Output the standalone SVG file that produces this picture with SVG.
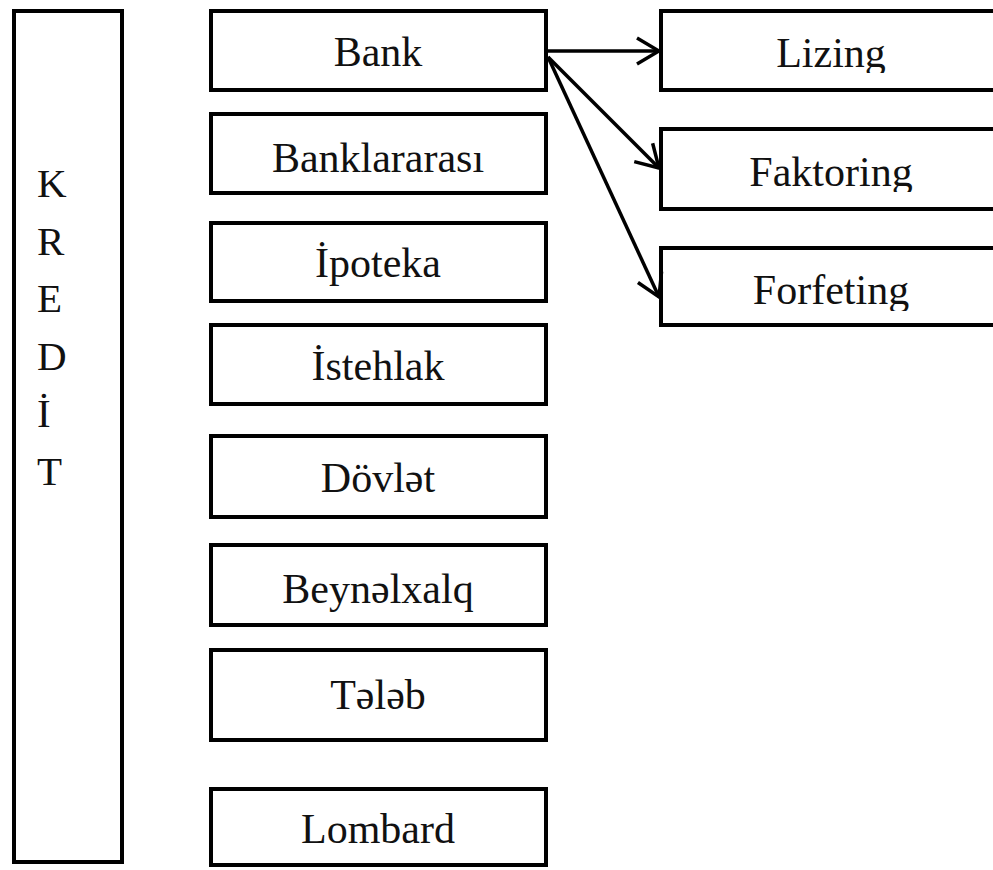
<svg xmlns="http://www.w3.org/2000/svg" width="993" height="870" viewBox="0 0 993 870">
  <style>
    .box { fill: #fff; stroke: #000; stroke-width: 4; }
    .lbl { font-family: "Liberation Serif", "Times New Roman", serif; font-size: 42px; fill: #111; text-anchor: middle; }
    .side { font-family: "Liberation Serif", "Times New Roman", serif; font-size: 41px; fill: #111; }
    .edge { stroke: #000; stroke-width: 3.5; fill: none; marker-end: url(#open); }
  </style>
  <defs>
    <marker id="open" viewBox="0 0 26 30" refX="24" refY="15" markerWidth="26" markerHeight="30" markerUnits="userSpaceOnUse" orient="auto">
      <path d="M2,2 L24,15 L2,28" fill="none" stroke="#000" stroke-width="3.5" stroke-linejoin="miter"/>
    </marker>
    <!-- descenders are cut at the lower edge of the text frame -->
    <clipPath id="clipLizing"><rect x="660" y="0" width="340" height="73"/></clipPath>
    <clipPath id="clipFaktoring"><rect x="660" y="120" width="340" height="72"/></clipPath>
    <clipPath id="clipForfeting"><rect x="660" y="240" width="340" height="71"/></clipPath>
    <clipPath id="clipBeynelxalq"><rect x="210" y="540" width="336" height="75"/></clipPath>
  </defs>
  <rect width="993" height="870" fill="#fff"/>

  <g id="kredit">
    <rect class="box" x="14" y="11" width="108" height="851"/>
    <text class="side" x="37" y="197">K</text>
    <text class="side" x="37" y="255">R</text>
    <text class="side" x="37" y="312">E</text>
    <text class="side" x="37" y="370">D</text>
    <text class="side" x="37" y="427">İ</text>
    <text class="side" x="37" y="485">T</text>
  </g>

  <g id="bank">
    <rect class="box" x="211" y="11" width="335" height="79"/>
    <text class="lbl" x="378" y="66">Bank</text>
  </g>
  <g id="banklararasi">
    <rect class="box" x="211" y="114" width="335" height="79"/>
    <text class="lbl" x="378" y="172">Banklararası</text>
  </g>
  <g id="ipoteka">
    <rect class="box" x="211" y="223" width="335" height="78"/>
    <text class="lbl" x="378" y="277">İpoteka</text>
  </g>
  <g id="istehlak">
    <rect class="box" x="211" y="325" width="335" height="79"/>
    <text class="lbl" x="378" y="380">İstehlak</text>
  </g>
  <g id="dovlet">
    <rect class="box" x="211" y="436" width="335" height="81"/>
    <text class="lbl" x="378" y="492">Dövlət</text>
  </g>
  <g id="beynelxalq">
    <rect class="box" x="211" y="545" width="335" height="80"/>
    <text class="lbl" x="378" y="603" clip-path="url(#clipBeynelxalq)">Beynəlxalq</text>
  </g>
  <g id="teleb">
    <rect class="box" x="211" y="650" width="335" height="90"/>
    <text class="lbl" x="378" y="709">Tələb</text>
  </g>
  <g id="lombard">
    <rect class="box" x="211" y="789" width="335" height="76"/>
    <text class="lbl" x="378" y="843">Lombard</text>
  </g>

  <g id="lizing">
    <rect class="box" x="661" y="11" width="345" height="79"/>
    <text class="lbl" x="831" y="67" clip-path="url(#clipLizing)">Lizing</text>
  </g>
  <g id="faktoring">
    <rect class="box" x="661" y="129" width="345" height="80"/>
    <text class="lbl" x="831" y="186" clip-path="url(#clipFaktoring)">Faktoring</text>
  </g>
  <g id="forfeting">
    <rect class="box" x="661" y="248" width="345" height="77"/>
    <text class="lbl" x="831" y="304" clip-path="url(#clipForfeting)">Forfeting</text>
  </g>

  <g id="connectors">
    <line class="edge" x1="547" y1="51" x2="659" y2="51"/>
    <line class="edge" x1="548" y1="57" x2="659" y2="168"/>
    <line class="edge" x1="548" y1="57" x2="659" y2="297"/>
  </g>
</svg>
